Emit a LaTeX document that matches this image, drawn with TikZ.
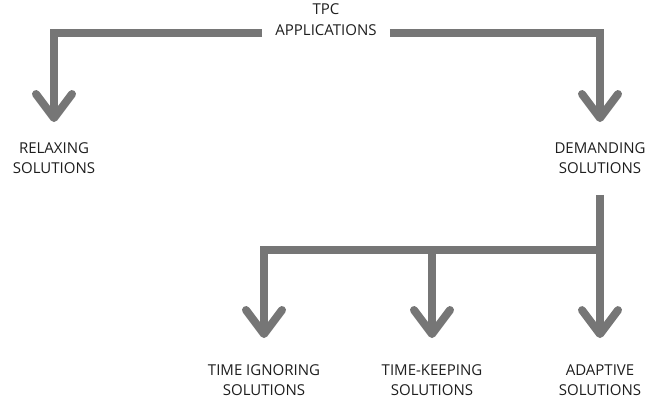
\documentclass[tikz,border=0pt]{standalone}
\usepackage{fontspec}
\setmainfont{Open Sans}
\usepackage{tikz}
\usetikzlibrary{arrows.meta,calc,positioning}

\definecolor{linkgray}{RGB}{118,118,118}
\definecolor{labeltext}{RGB}{30,30,30}

\begin{document}
\begin{tikzpicture}[x=1pt,y=-1pt,
    every node/.style={align=center, inner sep=0pt, text=labeltext,
        font=\fontsize{15}{20.5}\selectfont},
    link/.style={draw=linkgray, line width=8pt},
    arrowlink/.style={link, -{Straight Barb[length=24pt, width=36pt, round]}}]
\useasboundingbox (0,0) rectangle (647,400);
% labels
\node (App)    at (326,19.5) {TPC\\APPLICATIONS};
\node (Relax)  at (54,158)   {RELAXING\\SOLUTIONS};
\node (Demand) at (600,158)  {DEMANDING\\SOLUTIONS};
\node (Ignore) at (264,380)  {TIME IGNORING\\SOLUTIONS};
\node (Keep)   at (432,380)  {TIME-KEEPING\\SOLUTIONS};
\node (Adapt)  at (600,380)  {ADAPTIVE\\SOLUTIONS};
\coordinate (Split) at (0,33);
\coordinate (Bus) at (0,250);
% connectors
\draw[arrowlink, shorten >=20pt] ([xshift=-13pt]App.west |- Split) -| (Relax.north);
\draw[arrowlink, shorten >=20pt] ([xshift=13pt]App.east |- Split) -| (Demand.north);
\draw[arrowlink, shorten <=21pt, shorten >=26pt] (Demand.south) -- (Adapt.north);
\draw[arrowlink, shorten >=26pt] (Adapt.north |- Bus) -| (Ignore.north);
\draw[arrowlink, shorten >=26pt] (Keep.north |- Bus) -- (Keep.north);
\end{tikzpicture}
\end{document}
